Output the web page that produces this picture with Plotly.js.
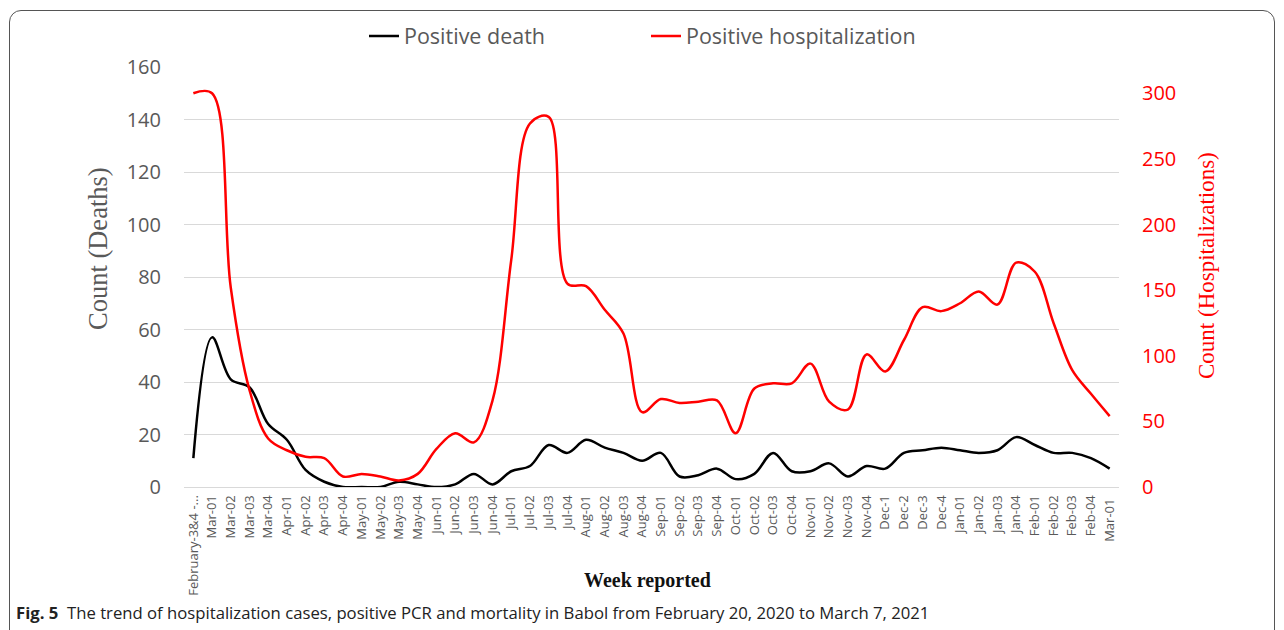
<!DOCTYPE html>
<html>
<head>
<meta charset="utf-8">
<script src="https://cdn.plot.ly/plotly-3.0.1.min.js"></script>
<style>
  html, body { margin: 0; padding: 0; background: #fff; }
  #wrap { position: relative; width: 1284px; height: 630px; overflow: hidden; }
  #frame { position: absolute; left: 9px; top: 10px; width: 1266px; height: 660px;
           border: 1.5px solid #555; border-radius: 12px; box-sizing: border-box; pointer-events: none; z-index: 5; }
  #chart { position: absolute; left: 0; top: 0; width: 1284px; height: 630px; }
</style>
</head>
<body>
<div id="wrap">
  <div id="chart"></div>
  <div id="frame"></div>
</div>
<script>
const weeks = ["February-3&4 -...","Mar-01","Mar-02","Mar-03","Mar-04","Apr-01","Apr-02","Apr-03","Apr-04",
  "May-01","May-02","May-03","May-04","Jun-01","Jun-02","Jun-03","Jun-04","Jul-01","Jul-02","Jul-03","Jul-04",
  "Aug-01","Aug-02","Aug-03","Aug-04","Sep-01","Sep-02","Sep-03","Sep-04","Oct-01","Oct-02","Oct-03","Oct-04",
  "Nov-01","Nov-02","Nov-03","Nov-04","Dec-1","Dec-2","Dec-3","Dec-4","Jan-01","Jan-02","Jan-03","Jan-04",
  "Feb-01","Feb-02","Feb-03","Feb-04","Mar-01 "];

const deaths = [11,57,41,38,24,18,6.5,2,0,0,0,2,1,0,1,5,1,6,8,16,13,
  18,15,13,10,13,4,4.5,7,3,5,13,6,6,9,4,8,7,13,14,15,
  14,13,14,19,16,13,13,11,7];

const hospitalizations = [300,300,152,74,37,28,23,22,8,10,8,5,10,29,41,34,66,173,277,282,155,
  153,135,117,57,67,64,65,66,41,75,79,79,94,65,59,101,88,112,137,134,
  140,149,139,171,164,125,89,71,54];

const legendNames = ["Positive death", "Positive hospitalization"];

const traces = [
  { x: weeks, y: deaths, name: legendNames[0], type: 'scatter', mode: 'lines',
    line: { color: '#000000', width: 2.5, shape: 'spline', smoothing: 1 }, yaxis: 'y' },
  { x: weeks, y: hospitalizations, name: legendNames[1], type: 'scatter', mode: 'lines',
    line: { color: '#ff0000', width: 2.5, shape: 'spline', smoothing: 1 }, yaxis: 'y2' }
];

const PL = 184, PR = 1119, PT = 67, PB = 487;
const pw = PR - PL, ph = PB - PT;
const px = v => (v - PL) / pw;
const py = v => (PB - v) / ph;

const layout = {
  width: 1284, height: 630,
  margin: { l: PL, r: 1284 - PR, t: PT, b: 630 - PB, pad: 0 },
  paper_bgcolor: '#ffffff', plot_bgcolor: '#ffffff',
  font: { family: 'Open Sans, Noto Sans, sans-serif', color: '#595959' },
  showlegend: true,
  legend: { orientation: 'h', x: px(364), y: py(36), xanchor: 'left', yanchor: 'middle',
    entrywidth: 237, entrywidthmode: 'pixels', itemwidth: 30,
    font: { size: 21.5, color: '#595959', family: 'Open Sans, sans-serif' }, bgcolor: 'rgba(0,0,0,0)' },
  xaxis: {
    type: 'category', range: [-0.5, weeks.length - 0.5],
    tickangle: -90, tickfont: { size: 13, color: '#595959' },
    showgrid: false, showline: true, linecolor: '#d9d9d9', linewidth: 1,
    ticks: '', ticklabelstandoff: 2, fixedrange: true
  },
  yaxis: {
    range: [0, 160], dtick: 20, showgrid: true, gridcolor: '#d9d9d9', gridwidth: 1,
    zeroline: false, showline: false, ticks: '', ticklabelstandoff: 22,
    tickfont: { size: 20, color: '#595959' }
  },
  yaxis2: {
    range: [0, 320], tick0: 0, dtick: 50, overlaying: 'y', side: 'right',
    showgrid: false, zeroline: false, showline: false, ticks: '', ticklabelstandoff: 22,
    tickfont: { size: 20, color: '#ff0000' }
  },
  annotations: [
    { text: 'Count (Deaths)', xref: 'paper', yref: 'paper', x: px(98), y: py(249),
      xanchor: 'center', yanchor: 'middle', textangle: -90, showarrow: false,
      font: { family: 'Liberation Serif, serif', size: 26.5, color: '#595959' } },
    { text: 'Count (Hospitalizations)', xref: 'paper', yref: 'paper', x: px(1206), y: py(266),
      xanchor: 'center', yanchor: 'middle', textangle: -90, showarrow: false,
      font: { family: 'Liberation Serif, serif', size: 23, color: '#ff0000' } },
    { text: '<b>Week reported</b>', xref: 'paper', yref: 'paper', x: px(647), y: py(580),
      xanchor: 'center', yanchor: 'middle', showarrow: false,
      font: { family: 'Liberation Serif, serif', size: 20, color: '#111111' } },
    { text: '<b>Fig. 5</b>  The trend of hospitalization cases, positive PCR and mortality in Babol from February 20, 2020 to March 7, 2021',
      xref: 'paper', yref: 'paper', x: px(14), y: py(612),
      xanchor: 'left', yanchor: 'middle', showarrow: false, align: 'left',
      font: { family: 'Open Sans, sans-serif', size: 16.7, color: '#222222' } }
  ]
};

Plotly.newPlot('chart', traces, layout, { staticPlot: true, displayModeBar: false });
</script>
</body>
</html>
